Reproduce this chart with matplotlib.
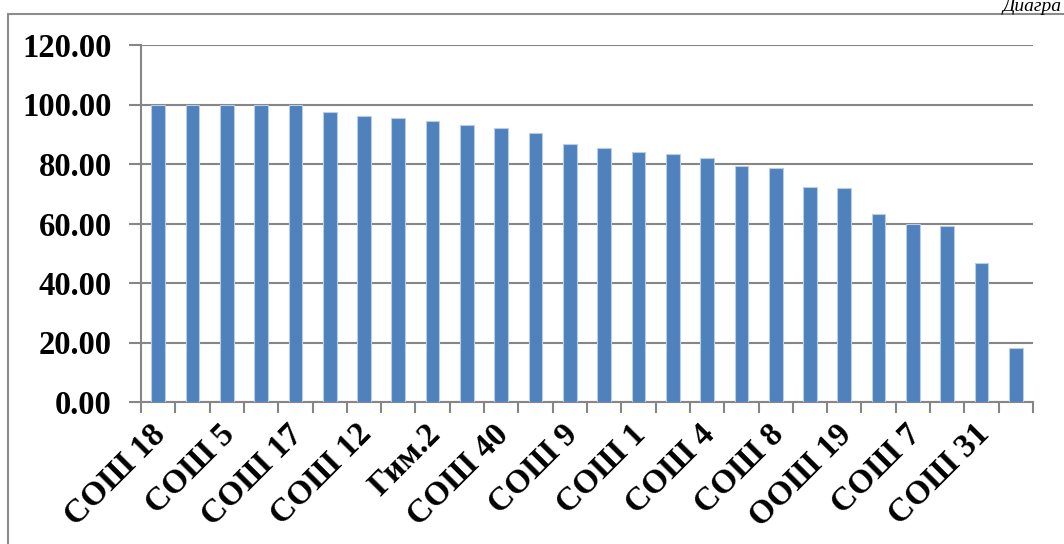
import matplotlib
matplotlib.use("Agg")
import matplotlib.pyplot as plt
import matplotlib.transforms as mtransforms
import numpy as np
from matplotlib.patches import Rectangle

schools = ["СОШ 18", "", "СОШ 5", "", "СОШ 17", "", "СОШ 12", "", "Гим.2", "",
           "СОШ 40", "", "СОШ 9", "", "СОШ 1", "", "СОШ 4", "", "СОШ 8", "",
           "ООШ 19", "", "СОШ 7", "", "СОШ 31", ""]
values = [100.0, 100.0, 100.0, 100.0, 100.0, 97.6, 96.1, 95.6, 94.3, 93.1,
          92.0, 90.3, 86.7, 85.5, 84.0, 83.4, 82.0, 79.4, 78.7, 72.4,
          71.8, 63.1, 60.0, 59.0, 46.7, 18.2]
y_ticks = [0, 20, 40, 60, 80, 100, 120]

plt.rcParams['font.family'] = ['Liberation Serif', 'DejaVu Serif']

W, H = 1064, 544
fig = plt.figure(figsize=(W / 100, H / 100), dpi=100)
ax = fig.add_axes([141 / W, 1 - 402 / H, (1033 - 141) / W, (402 - 45) / H])

x = np.arange(len(values))
ax.bar(x, values, width=0.4, color='#4F81BD', edgecolor='#B9CDE5', linewidth=0.8, zorder=3)

ax.set_xlim(-0.5, len(values) - 0.5)
ax.set_ylim(0, 120)
ax.set_yticks(y_ticks)
ax.set_yticklabels([f"{v:.2f}" for v in y_ticks], fontsize=23.5, fontweight='bold')
ax.yaxis.grid(True, color='#868686', linewidth=1.5, zorder=0)
ax.set_axisbelow(True)

label_pos = [i for i, s in enumerate(schools) if s]
ax.set_xticks(label_pos)
ax.set_xticklabels([schools[i] for i in label_pos], rotation=45, ha='right',
                   rotation_mode='anchor', fontsize=24, fontweight='bold')
ax.tick_params(axis='x', which='major', length=0, pad=12)
offset = mtransforms.ScaledTranslation(-8 / 100, 0, fig.dpi_scale_trans)
for lbl in ax.get_xticklabels():
    lbl.set_transform(lbl.get_transform() + offset)
ax.set_xticks(np.arange(-0.5, len(values), 1), minor=True)
ax.tick_params(axis='x', which='minor', length=8, width=1.5, color='#868686', direction='out')
ax.tick_params(axis='y', length=9, width=1.5, color='#868686', pad=12)

for side in ['top', 'right']:
    ax.spines[side].set_visible(False)
for side in ['left', 'bottom']:
    ax.spines[side].set_color('#868686')
    ax.spines[side].set_linewidth(1.5)

rect = Rectangle((8 / W, -0.2), 1.2, 1.2 - 14 / H, transform=fig.transFigure,
                 fill=False, edgecolor='#8C8C8C', linewidth=1.5, clip_on=False)
fig.add_artist(rect)

fig.text(1062 / W, 1 - 11 / H, "Диагра", fontsize=14, style='italic',
         ha='right', va='baseline')

fig.savefig("out.png", dpi=100)
